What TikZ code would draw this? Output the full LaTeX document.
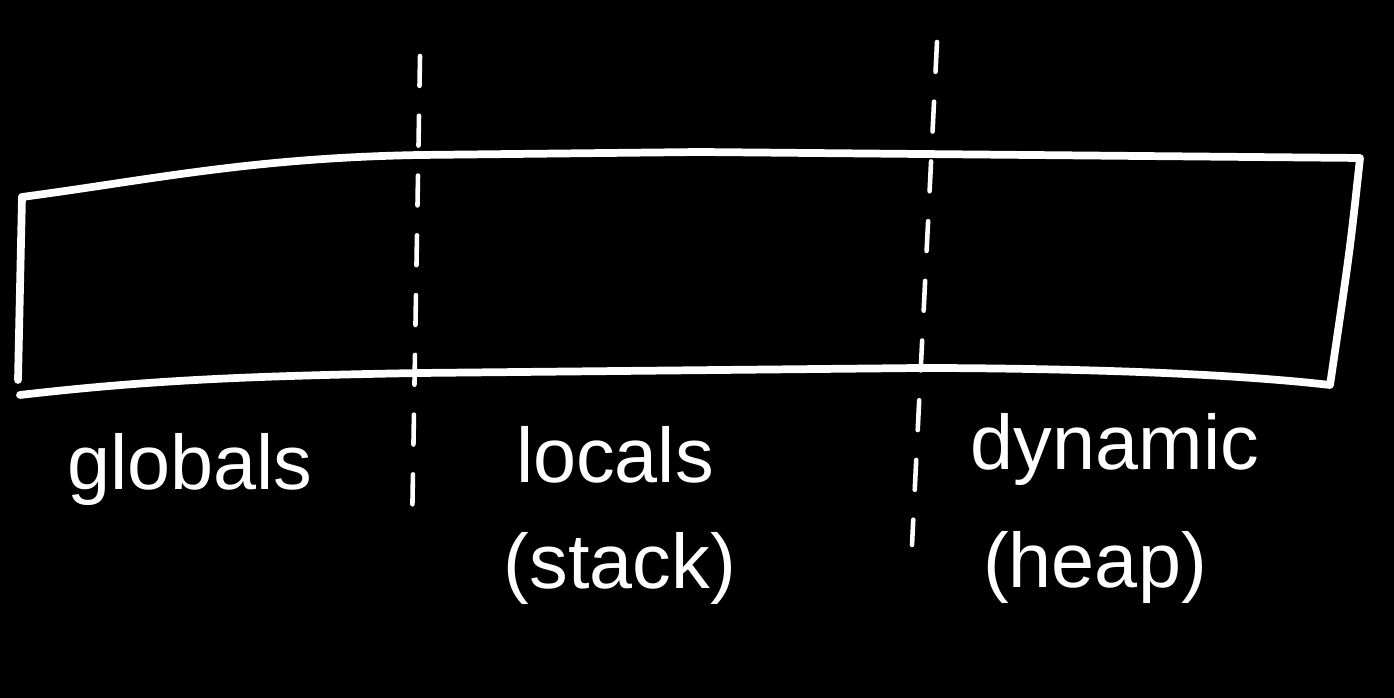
\documentclass[tikz,border=0pt]{standalone}
\usepackage{fontspec}
\setmainfont{Liberation Sans}
\usepackage{tikz}

\tikzset{
  pen/.style={draw=white,line width=2.2pt,line cap=round,line join=round},
  cut/.style={draw=white,line width=1.3pt,line cap=round,dash pattern=on 8.5pt off 8.5pt},
  lbl/.style={text=white,font=\fontsize{22}{30}\selectfont,align=center,inner sep=0pt}
}

\begin{document}
\begin{tikzpicture}[x=0.01cm,y=-0.01cm]
      \fill[black] (0,0) rectangle (1394,698);
      \useasboundingbox (0,0) rectangle (1394,698);
      % the memory band
      \path[pen] (22,197) .. controls (150,180) and (250,158) .. (420,155)
        -- (700,152) -- (1360,158) .. controls (1350,250) .. (1330,385)
        .. controls (1200,370) and (1000,368) .. (920,368)
        -- (420,373) .. controls (250,376) and (150,380) .. (20,395);
      \path[pen] (22,197) -- (18,380);
      % region borders
      \path[cut] (420,56) -- (412,530);
      \path[cut] (937,42) -- (912,545);
      % labels
      \node[lbl] (globals) at (190,470) {globals};
      \node[lbl] (locals) at (615,455) {locals};
      \node[lbl] (stack) at (620,568) {(stack)};
      \node[lbl] (dynamic) at (1115,450) {dynamic};
      \node[lbl] (heap) at (1095,568) {(heap)};
    \end{tikzpicture}
\end{document}
